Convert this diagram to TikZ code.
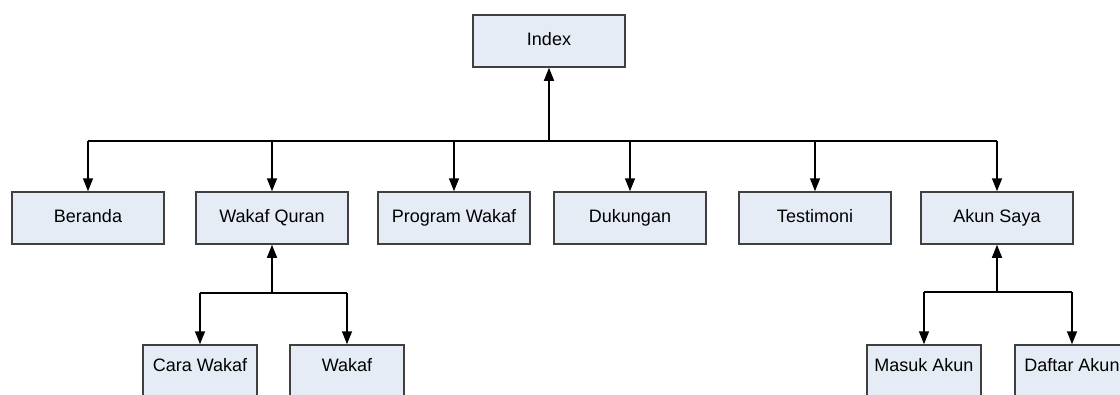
\documentclass[tikz,border=0pt]{standalone}
\usepackage{fontspec}
\setmainfont{Liberation Sans}
\usetikzlibrary{arrows.meta}
\definecolor{boxfill}{RGB}{230,236,246}
\tikzset{
  page/.style={draw=black!75,fill=boxfill,line width=1.5pt,minimum height=52pt,
    font=\fontsize{18}{20}\selectfont,inner sep=0pt,text height=13pt},
  bigpage/.style={page,minimum width=152pt,text depth=4pt},
  subpage/.style={page,minimum width=114pt,text depth=12pt},
  arr/.style={-{Triangle[length=13pt,width=10pt]}},
}
\begin{document}
\begin{tikzpicture}[x=1pt,y=-1pt,line width=1.5pt]
\useasboundingbox (0,0) rectangle (1120,394);
\clip (0,0) rectangle (1120,394);
% top
\node[bigpage] (index) at (549,41) {Index};
% first level
\node[bigpage] (beranda) at (88,218) {Beranda};
\node[bigpage] (wakafquran) at (272,218) {Wakaf Quran};
\node[bigpage] (program) at (454,218) {Program Wakaf};
\node[bigpage] (dukungan) at (630,218) {Dukungan};
\node[bigpage] (testimoni) at (815,218) {Testimoni};
\node[bigpage] (akunsaya) at (997,218) {Akun Saya};
% second level
\node[subpage] (carawakaf) at (200,371) {Cara Wakaf};
\node[subpage] (wakaf) at (347,371) {Wakaf};
\node[subpage] (masuk) at (924,371) {Masuk Akun};
\node[subpage] (daftar) at (1072,371) {Daftar Akun};
% buses
\coordinate (bus) at (549,141);
\coordinate (buswq) at (272,293);
\coordinate (busas) at (997,292);
\draw[arr] (bus) -- (index.south);
\draw (beranda |- bus) -- (akunsaya |- bus);
\foreach \n in {beranda,wakafquran,program,dukungan,testimoni,akunsaya}
  \draw[arr] (\n |- bus) -- (\n.north);
\draw[arr] (buswq) -- (wakafquran.south);
\draw (carawakaf |- buswq) -- (wakaf |- buswq);
\draw[arr] (carawakaf |- buswq) -- (carawakaf.north);
\draw[arr] (wakaf |- buswq) -- (wakaf.north);
\draw[arr] (busas) -- (akunsaya.south);
\draw (masuk |- busas) -- (daftar |- busas);
\draw[arr] (masuk |- busas) -- (masuk.north);
\draw[arr] (daftar |- busas) -- (daftar.north);
\end{tikzpicture}
\end{document}
